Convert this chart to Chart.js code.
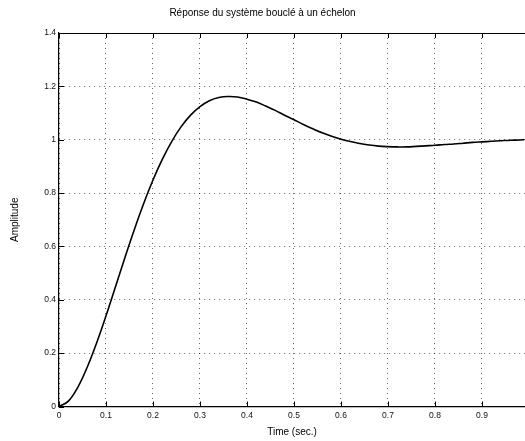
<!DOCTYPE html>
<html>
<head>
<meta charset="utf-8">
<script src="https://cdn.jsdelivr.net/npm/chart.js@4/dist/chart.umd.min.js"></script>
<style>
html,body{margin:0;padding:0;background:#fff;}
#wrap{width:525px;height:441px;position:relative;}
</style>
</head>
<body>
<div id="wrap"><canvas id="c" width="525" height="441"></canvas></div>
<script>
const chartTitle = "Réponse du système bouclé à un échelon";
const xTitle = "Time (sec.)";
const yTitle = "Amplitude";

const timeValues = [0.00,0.02,0.04,0.06,0.08,0.10,0.12,0.14,0.16,0.18,0.20,0.22,0.24,0.26,0.28,0.30,0.32,0.34,0.36,0.38,0.40,0.42,0.44,0.46,0.48,0.50,0.52,0.54,0.56,0.58,0.60,0.62,0.64,0.66,0.68,0.70,0.72,0.74,0.76,0.78,0.80,0.82,0.84,0.86,0.88,0.90,0.92,0.94,0.96,0.98,0.99];
const amplitude  = [0.000,0.020,0.072,0.147,0.238,0.340,0.448,0.557,0.662,0.760,0.849,0.927,0.994,1.049,1.092,1.124,1.146,1.158,1.162,1.160,1.152,1.141,1.126,1.110,1.092,1.075,1.057,1.041,1.026,1.013,1.002,0.993,0.986,0.980,0.976,0.974,0.973,0.973,0.975,0.977,0.979,0.982,0.984,0.987,0.990,0.992,0.994,0.996,0.998,0.999,1.000];

const xTickValues = [0,0.1,0.2,0.3,0.4,0.5,0.6,0.7,0.8,0.9];
const xTickLabels = ["0","0.1","0.2","0.3","0.4","0.5","0.6","0.7","0.8","0.9"];
const yTickValues = [0,0.2,0.4,0.6,0.8,1,1.2,1.4];
const yTickLabels = ["0","0.2","0.4","0.6","0.8","1","1.2","1.4"];

const FONT = "'Liberation Sans', Arial, Helvetica, sans-serif";

const frame = {
  id: 'frame',
  afterDraw(chart) {
    const {ctx, chartArea} = chart;
    const xs = chart.scales.x, ys = chart.scales.y;
    ctx.save();
    ctx.strokeStyle = '#000';
    ctx.lineWidth = 1;
    ctx.beginPath();
    ctx.moveTo(chartArea.left, chartArea.top + 0.5);
    ctx.lineTo(chartArea.right, chartArea.top + 0.5);
    xs.ticks.forEach(t => {
      const px = Math.round(xs.getPixelForValue(t.value)) + 0.5;
      ctx.moveTo(px, chartArea.bottom);
      ctx.lineTo(px, chartArea.bottom - 5);
      ctx.moveTo(px, chartArea.top);
      ctx.lineTo(px, chartArea.top + 5);
    });
    ys.ticks.forEach(t => {
      const py = Math.round(ys.getPixelForValue(t.value)) + 0.5;
      ctx.moveTo(chartArea.left, py);
      ctx.lineTo(chartArea.left + 5, py);
    });
    ctx.stroke();
    ctx.restore();
  }
};

new Chart(document.getElementById('c'), {
  type: 'line',
  data: {
    datasets: [{
      data: timeValues.map((t, i) => ({x: t, y: amplitude[i]})),
      borderColor: '#000',
      borderWidth: 1.6,
      pointRadius: 0,
      tension: 0.4,
      fill: false
    }]
  },
  options: {
    responsive: false,
    animation: false,
    devicePixelRatio: 1,
    layout: {padding: 0},
    plugins: {
      legend: {display: false},
      tooltip: {enabled: false},
      title: {
        display: true,
        text: chartTitle,
        color: '#000',
        font: {family: FONT, size: 10, weight: 'normal', lineHeight: 1.2},
        padding: {top: 7, bottom: 14}
      }
    },
    scales: {
      x: {
        type: 'linear',
        min: 0,
        max: 0.9915,
        afterBuildTicks: s => { s.ticks = xTickValues.map(v => ({value: v})); },
        afterFit: s => { s.height = 34.5; },
        ticks: {
          callback: (v) => { const i = xTickValues.indexOf(v); return i >= 0 ? xTickLabels[i] : ''; },
          color: '#111',
          font: {family: FONT, size: 8.5},
          padding: 4,
          maxRotation: 0,
          autoSkip: false
        },
        grid: {
          color: 'rgba(0,0,0,0.6)',
          lineWidth: 1,
          drawTicks: false
        },
        border: {display: true, color: '#000', width: 1.2, dash: [1,4]},
        title: {
          display: true,
          text: xTitle,
          color: '#000',
          font: {family: FONT, size: 10},
          padding: {top: 0, bottom: 3}
        }
      },
      y: {
        type: 'linear',
        min: 0,
        max: 1.4,
        afterBuildTicks: s => { s.ticks = yTickValues.map(v => ({value: v})); },
        afterFit: s => { s.width = 59; },
        ticks: {
          callback: (v) => { const i = yTickValues.findIndex(y => Math.abs(y - v) < 1e-9); return i >= 0 ? yTickLabels[i] : ''; },
          color: '#111',
          font: {family: FONT, size: 8.5},
          padding: 3
        },
        grid: {
          color: 'rgba(0,0,0,0.6)',
          lineWidth: 1,
          drawTicks: false
        },
        border: {display: true, color: '#000', width: 1.2, dash: [1,4]},
        title: {
          display: true,
          text: yTitle,
          color: '#000',
          font: {family: FONT, size: 10},
          padding: {top: 9, bottom: 0}
        }
      }
    }
  },
  plugins: [frame]
});
</script>
</body>
</html>
